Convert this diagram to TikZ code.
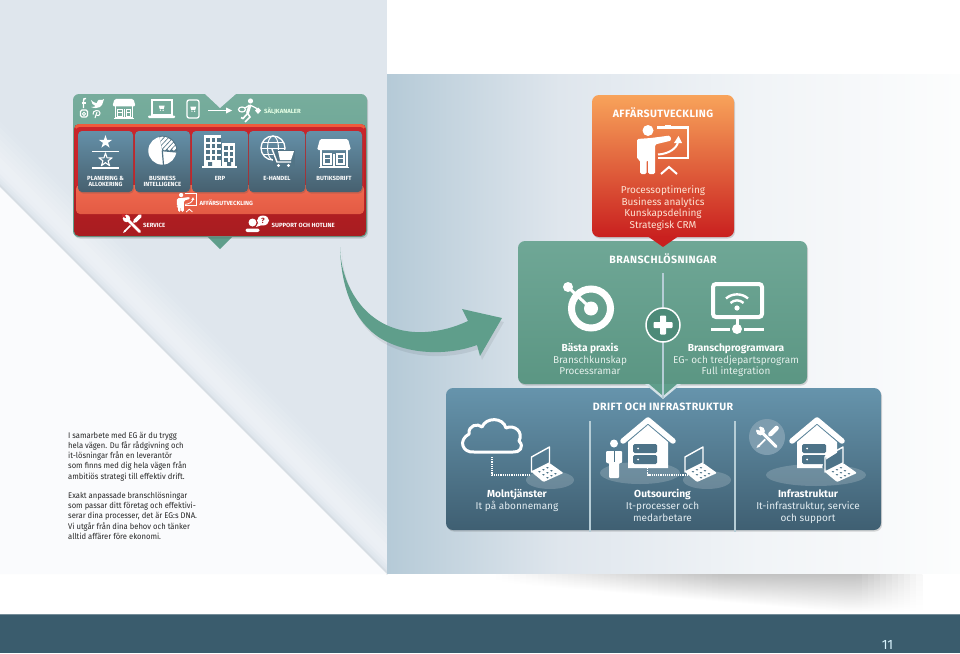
\documentclass[tikz,border=0pt]{standalone}
\usepackage{fontspec}
\setmainfont{Fira Sans}
\newfontfamily\titlefont[LetterSpace=4]{Fira Sans}
\newfontfamily\bodyfont[FakeStretch=.93]{Fira Sans}
\usetikzlibrary{shadows}
\definecolor{pagebg}{HTML}{DFE6ED}
\definecolor{foldlo}{HTML}{FAFBFD}
\definecolor{footbar}{HTML}{3A5C6D}
\definecolor{tilemid}{HTML}{527486}
\definecolor{midgreen}{HTML}{5F9E8B}
\definecolor{dvd}{HTML}{B6CDD6}
\definecolor{srv}{HTML}{4D7388}
\definecolor{tiletop}{HTML}{6590A8}
\definecolor{tilebot}{HTML}{46606F}
\definecolor{B5tone}{HTML}{B5CAD7}
\definecolor{F1tone}{HTML}{F1F4F7}
\definecolor{FCtone}{HTML}{FCFDFD}
\definecolor{RedA}{HTML}{C9252A}
\definecolor{RedB}{HTML}{A81C20}
\definecolor{OrTop}{HTML}{EE5B3C}
\definecolor{SalA}{HTML}{F0694F}
\definecolor{SalB}{HTML}{E35B44}
\definecolor{BlueA}{HTML}{6694AC}
\definecolor{BlueB}{HTML}{3F5F72}
\definecolor{GreenA}{HTML}{6FA796}
\definecolor{GreenB}{HTML}{5B9683}
\definecolor{GreenC}{HTML}{4D8A78}
\definecolor{OrA}{HTML}{F8A35A}
\definecolor{OrB}{HTML}{EF6F3A}
\definecolor{OrC}{HTML}{C9201F}
\definecolor{OrText}{HTML}{FDE3D3}
\definecolor{GrText}{HTML}{E3EFEA}
\definecolor{BlText}{HTML}{E3EDF2}
\definecolor{circbg}{HTML}{7E9DAF}
\newcommand\lf{1}
\newcommand\toolbg{RedA}
\newcommand\starpath{(0,-1) -- (.2245,-.309) -- (.951,-.309) -- (.363,.118) -- (.588,.809) -- (0,.382) -- (-.588,.809) -- (-.363,.118) -- (-.951,-.309) -- (-.2245,-.309) -- cycle}
\tikzset{
  softshadow/.style={drop shadow={shadow xshift=1pt,shadow yshift=-1.5pt,opacity=.22,fill=black!70}},
  caplabel/.style={text=white,font=\fontsize{6}{6.2}\selectfont\bfseries,align=center,inner sep=0pt},
  sidelabel/.style={text=white,font=\fontsize{6}{6.2}\selectfont\bfseries,anchor=west,inner sep=0pt},
  boxtitle/.style={text=white,font=\fontsize{10.6}{12}\titlefont\bfseries,inner sep=0pt,text height=9.2pt,text depth=2pt},
  boxline/.style={text=#1,font=\fontsize{10}{11.6}\selectfont,inner sep=0pt,text height=9.6pt,text depth=2pt},
  boxbold/.style={text=white,font=\fontsize{10.2}{11.6}\selectfont\bfseries,inner sep=0pt,text height=9.6pt,text depth=2pt},
  body/.style={text=black!85,font=\fontsize{8.2}{10.3}\bodyfont,align=left,anchor=north west,inner sep=0pt},
  tile/.style={rounded corners=4,top color=tiletop,bottom color=tilebot,softshadow},
  bizicon/.pic={
    \fill[white] (-15,-20.5) circle[radius=5.5];
    \fill[white,rounded corners=1.5] (-26,-12) -- (-12,-13) -- (7,-15.5) -- (8.5,-10.5) -- (-8,-6.5) -- (-8,23) -- (-15,23) -- (-15,9) -- (-16.5,9) -- (-16.5,23) -- (-23,23) -- (-23,9) -- (-26,8) -- cycle;
    \draw[white,line width=\lf*2.6pt] (-6,-23.5) -- (25,-23.5) -- (25,7) -- (-5,7);
    \fill[white] (2,-26.5) rectangle (8,-23.5);
    \draw[white,line width=\lf*2pt] (-5,3.5) .. controls (6,3) and (14,-3) .. (15,-9);
    \fill[white] (11,-8) -- (15.5,-15) -- (19,-8) -- cycle;
    \draw[white,line width=\lf*2pt] (-2,23) -- (6,16) -- (14,23);
  },
  toolicon/.pic={
    \draw[white,line width=\lf*4.4pt,line cap=round] (3.5,-3.5) -- (9.5,-9.5);
    \draw[white,line width=\lf*1.7pt] (3,-3) -- (-8,8);
    \fill[white] (-10.5,10.5) -- (-9,7) -- (-7,9) -- cycle;
    \draw[\toolbg,line width=\lf*4.6pt] (-4,-4) -- (9,9);
    \draw[white,line width=\lf*3pt,line cap=round] (-5,-5) -- (9,9);
    \fill[white] (-6.5,-6.5) circle[radius=4.4];
    \fill[\toolbg] (-7,-7) -- (-12,-8.5) -- (-12,-12) -- (-8.5,-12) -- cycle;
  },
  storeicon/.pic={
    \fill[white,rounded corners=1.5] (-14,-14) -- (14,-14) -- (17,-3) -- (-17,-3) -- cycle;
    \draw[white,line width=\lf*1.5pt] (-13,-3) -- (-13,14) -- (13,14) -- (13,-3);
    \draw[white,line width=\lf*1.3pt] (-10,1) rectangle (-3,11);
    \draw[white,line width=\lf*1.3pt] (0,1) -- (0,14);
    \draw[white,line width=\lf*1.3pt] (3,1) rectangle (10,11);
    \draw[white,line width=\lf*1pt] (-10,5) -- (-3,5) (3,5) -- (10,5);
    \draw[white,line width=\lf*1.6pt] (-15,14.5) -- (15,14.5);
  },
  carticon/.pic={
    \fill[white] (-3,-2) -- (3.5,-2) -- (2.5,1.5) -- (-2,1.5) -- cycle;
    \fill[white] (-1.2,3) circle[radius=.8] (1.8,3) circle[radius=.8];
  },
  laptopicon/.pic={
    \draw[white,line width=\lf*1.4pt,line join=round] (-15,-8) -- (3,-18) -- (3,-2) -- (-15,7) -- cycle;
    \fill[white,rounded corners=1] (-15,7) -- (3,-2) -- (17,8) -- (-3,17) -- cycle;
    \foreach \a/\b in {-7/7,-3/5,1/3,-3/10,1/8,5/6,1/13,5/11,9/9}{
      \fill[srv] (\a-1.3,\b-.5) -- (\a,\b-1) -- (\a+1.3,\b-.2) -- (\a,\b+.5) -- cycle;
    }
  },
  houseicon/.pic={
    \fill[white] (-20,25) -- (0,8) -- (20,25) -- (20,51) -- (-20,51) -- cycle;
    \draw[white,line width=5.5pt,line join=round,line cap=round] (-25,24) -- (0,3) -- (25,24);
    \fill[srv,rounded corners=1.5] (-15,27) rectangle (9,36);
    \fill[srv,rounded corners=1.5] (-15,38) rectangle (9,47);
    \fill[white] (-10,31.5) circle[radius=1] (-10,42.5) circle[radius=1];
  },
}
\begin{document}
\begin{tikzpicture}[x=1pt,y=-1pt]
\useasboundingbox (0,0) rectangle (960,653);
\fill[white] (0,0) rectangle (960,653);
% left page
\fill[pagebg] (0,0) rectangle (387,574);
\foreach \o/\c in {66/pagebg!96!white,60/pagebg!90!white,54/pagebg!84!white,48/pagebg!78!white,42/pagebg!72!white,36/pagebg!66!white,30/pagebg!60!white,24/pagebg!58!white,18/pagebg!62!white,13/pagebg!74!white,9/pagebg!90!white,6/pagebg,3/pagebg!96!black}{
  \fill[\c] (0,187-\o) -- (387,574-\o) -- (387,574) -- (0,187) -- cycle;
}
\fill[foldlo] (0,187) -- (387,574) -- (0,574) -- cycle;
% right panel
\shade[left color=B5tone,right color=pagebg] (387,74) rectangle (560,573);
\shade[left color=pagebg,right color=F1tone] (560,74) rectangle (760,573);
\shade[left color=F1tone,right color=FCtone] (760,74) rectangle (960,573);
% bottom shadow, built from narrow columns
\foreach \x in {490,496,...,920}{
  \pgfmathsetmacro\cc{min(24,(\x-490)/230*24)*min(1,max(0,(925-\x)/70))}
  \pgfmathsetmacro\hh{min(38,8+(\x-490)*0.085)}
  \shade[top color=black!\cc,bottom color=white] (\x,574) rectangle (\x+6.3,574+\hh);
}
% footer
\fill[footbar] (0,614) rectangle (960,653);
\fill[footbar!70!white] (0,614) rectangle (960,615);
\node[text=white!85!cyan,font=\fontsize{13.5}{14}\selectfont,inner sep=0pt] (pagenum) at (887.5,645) {11};
% body text
\node[body] (para1) at (68,431.5) {I samarbete med EG är du trygg\\hela vägen. Du får rådgivning och\\it-lösningar från en leverantör\\som finns med dig hela vägen från\\ambitiös strategi till effektiv drift.};
\node[body] (para2) at (68,491.5) {Exakt anpassade branschlösningar\\som passar ditt företag och effektivi-\\serar dina processer, det är EG:s DNA.\\Vi utgår från dina behov och tänker\\alltid affärer före ekonomi.};
% ---------- top-left panel
\fill[midgreen] (207,236) -- (220,249) -- (233,236) -- cycle;
\path[rounded corners=6,top color=midgreen!85!white,bottom color=midgreen,softshadow] (73,94) rectangle (367,237);
\fill[pagebg] (204,93) -- (220,108) -- (237,93) -- cycle;
\path[rounded corners=5,top color=RedA,bottom color=RedB] (74,124) rectangle (366,236);
\fill[OrTop,rounded corners=4] (75,124) rectangle (365,130);
\path[rounded corners=4,top color=RedA,bottom color=RedA] (75.5,127) rectangle (364.5,190);
\path[rounded corners=4,top color=SalA,bottom color=SalB] (76,185) rectangle (364,214);
\foreach \xa/\xb in {78/133,135/190,192/248,249/305,306/362}{
  \path[tile] (\xa,131) rectangle (\xb,192);
}
% social icons
\draw[white,line width=1.4pt] (86,98.5) .. controls (84,98) and (83.5,99) .. (83.5,101) -- (83.5,108);
\draw[white,line width=1.2pt] (81.5,103) -- (86,103);
\fill[white] (91,100) .. controls (94,103) and (96,103) .. (97,103) .. controls (97,100) and (100,98.5) .. (102,100) -- (104,99) -- (103,102) .. controls (103,106) and (98,110) .. (91,107) .. controls (94,107) and (95,106.5) .. (95.5,106) .. controls (93,105.5) and (91.5,103) .. (91,100) -- cycle;
\draw[white,line width=1.3pt,rounded corners=1.5] (80.5,110) rectangle (87.5,117);
\draw[white,line width=.9pt] (84,113.8) circle[radius=1.6];
\draw[white,line width=1pt] (95,118) -- (97,112);
\draw[white,line width=1pt] (93,114.5) .. controls (92,110) and (100,109) .. (100,113) .. controls (100,116) and (97,116) .. (96,115);
% channel icons
\renewcommand\lf{.7}
\pic[scale=.68] at (124,108.5) {storeicon};
\draw[white,line width=1.3pt] (152,100) rectangle (172,115);
\fill[white,rounded corners=1] (148,115.5) rectangle (175,118);
\pic[scale=.9] at (161.5,107.5) {carticon};
\draw[white,line width=1.3pt,rounded corners=2] (187,100) rectangle (199,118);
\pic[scale=.9] at (193,108.5) {carticon};
\draw[white,line width=1pt] (208,110.5) -- (230,110.5);
\fill[white] (226,107.5) -- (232,110.5) -- (226,113.5) -- cycle;
\fill[white] (250.5,101) circle[radius=2.6];
\draw[white,line width=3pt] (250,105) -- (247.5,113);
\draw[white,line width=1.6pt] (247.5,113) -- (250,117) -- (245,122);
\draw[white,line width=1.6pt] (248,113) -- (243,118.5) -- (241,117.5);
\draw[white,line width=1.3pt] (250,105) -- (256,108) -- (258,111);
\draw[white,line width=1.3pt] (249,105.5) -- (245,108);
\draw[white,line width=1.2pt] (242,109.5) ellipse[x radius=3.5,y radius=2.5];
\fill[white] (258,107.5) -- (261,110.5) -- (258,114) -- (255,110.5) -- cycle;
\node[sidelabel,text=white!90!green] (lblsalj) at (264,111) {SÄLJKANALER};
% tile icons
\begin{scope}[shift={(105.5,142)},scale=7]
  \fill[white] \starpath;
\end{scope}
\fill[white] (92,150.5) rectangle (119,152);
\begin{scope}[shift={(105.5,160)},scale=7]
  \draw[white,line width=1.1pt,line join=round] \starpath;
\end{scope}
\fill[white] (92,167) rectangle (119,168.5);
\fill[white] (162.3,150.7) circle[radius=14];
\begin{scope}
  \clip (162.3,150.7) -- (158,130) -- (182,130) -- (182,152) -- cycle;
  \fill[tilemid] (162.3,150.7) circle[radius=15];
  \clip (162.3,150.7) circle[radius=14];
  \foreach \k in {0,4.6,9.2,13.8,18.4,23}{
    \draw[white,line width=2.4pt] (150+\k,150) -- (166+\k,133);
  }
\end{scope}
\draw[tilemid,line width=1.2pt] (162.3,150.7) -- (176.5,152) (162.3,150.7) -- (163.5,165);
\foreach \xa/\xb/\ya in {204/221/135,222/235/143}{
  \fill[white] (\xa,\ya) rectangle (\xb,166);
}
\foreach \x in {206,211.5,217}{\foreach \y in {138,144,150,156}{\fill[tilemid] (\x,\y) rectangle +(3.6,4);}}
\foreach \x in {224,229.5}{\foreach \y in {146,152,158}{\fill[tilemid] (\x,\y) rectangle +(3.6,4);}}
\fill[tilemid] (208,162) rectangle (212,166) (227,162) rectangle (231,166);
\fill[white] (202,166) rectangle (237,167.5);
\draw[white,line width=1.3pt] (273,148) circle[radius=12];
\draw[white,line width=1pt] (273,148) ellipse[x radius=5.5,y radius=12];
\draw[white,line width=1pt] (261,148) -- (285,148) (263,142) -- (283,142) (263,154) -- (283,154);
\fill[tilemid] (273,150) rectangle (295,168);
\draw[white,line width=1.4pt] (272,149) -- (277,162) -- (291,162);
\fill[white] (278,151) -- (294,151) -- (291,160) -- (280,160) -- cycle;
\fill[white] (278.5,165.5) circle[radius=1.7] (288.5,165.5) circle[radius=1.7];
\renewcommand\lf{1}
\pic at (334,153) {storeicon};
% tile labels
\node[caplabel] (t1) at (105.5,181.5) {PLANERING \&\\ALLOKERING};
\node[caplabel] (t2) at (162.5,181.5) {BUSINESS\\INTELLIGENCE};
\node[caplabel] (t3) at (220,178.7) {ERP};
\node[caplabel] (t4) at (277,178.7) {E-HANDEL};
\node[caplabel] (t5) at (334,178.7) {BUTIKSDRIFT};
\renewcommand\lf{.4}
\pic[scale=.39] at (187,203) {bizicon};
\node[sidelabel] (lblaff) at (199.5,203) {AFFÄRSUTVECKLING};
\renewcommand\lf{.85}
\pic[scale=.85] at (132,224) {toolicon};
\node[sidelabel] (lblserv) at (143,225) {SERVICE};
\fill[white] (252.5,222.5) circle[radius=4];
\fill[white,rounded corners=2] (245.5,232) -- (245.5,228.5) -- (259.5,228.5) -- (259.5,232) -- cycle;
\fill[white] (263,220.5) ellipse[x radius=6,y radius=5];
\fill[white] (258,223) -- (256,227) -- (262,225) -- cycle;
\node[text=RedB,font=\fontsize{7.5}{8}\selectfont\bfseries,inner sep=0pt] (qmark) at (263,220.5) {?};
\node[sidelabel] (lblsupp) at (271.5,225) {SUPPORT OCH HOTLINE};
% curved arrow
\fill[black,opacity=.07] (342,251) .. controls (343,294) and (372,339) .. (427,336) .. controls (444,335) and (457,331) .. (470,325) -- (464,313) -- (504,322) -- (482,360) -- (479,349) .. controls (452,359) and (412,360) .. (382,342) .. controls (357,326) and (343,294) .. (342,251) -- cycle;
\fill[midgreen] (340,247) .. controls (341,290) and (370,335) .. (425,332) .. controls (442,331) and (455,327) .. (468,321) -- (462,309) -- (502,318) -- (480,356) -- (477,345) .. controls (450,355) and (410,356) .. (380,338) .. controls (355,322) and (341,290) .. (340,247) -- cycle;
% ---------- blue box
\path[rounded corners=7,top color=BlueA,bottom color=BlueB,softshadow] (446,388) rectangle (881,530);
\fill[dvd] (588.8,421) rectangle (591.2,532);
\fill[dvd] (733.8,421) rectangle (736.2,532);
\node[boxtitle] (drift) at (663,407) {DRIFT OCH INFRASTRUKTUR};
% ---------- green box
\path[rounded corners=7,top color=GreenA,bottom color=GreenB,softshadow] (518,241) rectangle (807,384);
\fill[dvd!60!white] (645,384) -- (663,399) -- (681,384) -- cycle;
\fill[midgreen] (649,384) -- (663,396) -- (677,384) -- cycle;
\fill[dvd] (661.5,273) rectangle (664,398);
\node[boxtitle] (bransch) at (663,260) {BRANSCHLÖSNINGAR};
% ---------- orange box
\path[rounded corners=7,top color=OrA,middle color=OrB,bottom color=OrC,softshadow] (592,95) rectangle (734,237);
\fill[OrC] (648,236.5) -- (663,247) -- (678,236.5) -- cycle;
\node[boxtitle] (aff) at (663,114) {AFFÄRSUTVECKLING};
\renewcommand\lf{1}
\pic at (663,151) {bizicon};
\node[boxline=OrText] (pr1) at (663,190) {Processoptimering};
\node[boxline=OrText] (pr2) at (663,201.5) {Business analytics};
\node[boxline=OrText] (pr3) at (663,213) {Kunskapsdelning};
\node[boxline=OrText] (pr4) at (663,225) {Strategisk CRM};
% target
\draw[white,line width=7pt] (591,308.5) circle[radius=19.5];
\fill[white] (591,308.5) circle[radius=7];
\draw[white,line width=3pt] (591,308.5) -- (569,288);
\fill[white] (568,287) circle[radius=5];
% plus
\fill[GreenC,draw=white,line width=1.5pt] (663,325) circle[radius=17];
\fill[white,rounded corners=.8] (660,315.5) rectangle (666,334.5);
\fill[white,rounded corners=.8] (653.5,322) rectangle (672.5,328);
% monitor
\draw[white,line width=4pt,rounded corners=3] (713,284) rectangle (762,317);
\fill[white] (735.5,317) rectangle (738.5,329);
\fill[white] (737,329) circle[radius=5];
\fill[white] (711,328) rectangle (730,330.5);
\fill[white] (744,328) rectangle (764,330.5);
\fill[white] (737,308) circle[radius=2.6];
\draw[white,line width=2.4pt] (730.5,303) .. controls (734,299.5) and (740,299.5) .. (743.5,303);
\draw[white,line width=2.4pt] (726,298.5) .. controls (732,293) and (742,293) .. (748,298.5);
% green texts
\node[boxbold] (gl1) at (590,348) {Bästa praxis};
\node[boxline=GrText] (gl2) at (590,360) {Branschkunskap};
\node[boxline=GrText] (gl3) at (590,371) {Processramar};
\node[boxbold] (gr1) at (736,348) {Branschprogramvara};
\node[boxline=GrText] (gr2) at (736,360) {EG- och tredjepartsprogram};
\node[boxline=GrText] (gr3) at (736,371) {Full integration};
% cloud column
\fill[white,opacity=.18] (550,480) ellipse[x radius=24,y radius=9];
\draw[white,line width=3pt,line join=round] (474,452) .. controls (462,453) and (458,440) .. (469,434) .. controls (468,425) and (478,423) .. (482,427) .. controls (486,417) and (503,417) .. (506,428) .. controls (514,424) and (524,432) .. (519,441) .. controls (525,447) and (519,453) .. (513,452) -- cycle;
\draw[white,line width=1.2pt,densely dotted] (492,457) -- (492,475) -- (530,475);
\renewcommand\lf{1}
\pic at (546.5,465) {laptopicon};
% outsourcing column
\fill[white,opacity=.18] (640,473) ellipse[x radius=40,y radius=11];
\fill[white,opacity=.18] (707,480) ellipse[x radius=24,y radius=9];
\pic at (648,417) {houseicon};
\fill[white] (614,443.5) circle[radius=4];
\fill[white,rounded corners=1] (606,451) -- (622,451) -- (622,463) -- (619,463) -- (619,478) -- (609,478) -- (609,463) -- (606,463) -- cycle;
\draw[srv,line width=.6pt] (614,451) -- (614,462);
\draw[white,line width=1.2pt,densely dotted] (647.5,468) -- (647.5,475) -- (687,475);
\pic at (700,465) {laptopicon};
% infrastructure column
\fill[white,opacity=.18] (816,475) ellipse[x radius=50,y radius=11];
\fill[circbg] (767,437) circle[radius=18];
\pic at (817,417) {houseicon};
\renewcommand\lf{1.05}
\renewcommand\toolbg{circbg}
\pic at (767,437.5) {toolicon};
\renewcommand\lf{1}
\fill[srv,rounded corners=1] (822,468) -- (824,461) -- (840,451) -- (841,464) -- (834,472) -- cycle;
\pic at (840,465) {laptopicon};
% blue texts
\node[boxbold] (b11) at (517,494) {Molntjänster};
\node[boxline=BlText] (b12) at (517,506) {It på abonnemang};
\node[boxbold] (b21) at (662.5,494) {Outsourcing};
\node[boxline=BlText] (b22) at (662.5,506) {It-processer och};
\node[boxline=BlText] (b23) at (662.5,518) {medarbetare};
\node[boxbold] (b31) at (808,494) {Infrastruktur};
\node[boxline=BlText] (b32) at (808,506) {It-infrastruktur, service};
\node[boxline=BlText] (b33) at (808,518) {och support};
\end{tikzpicture}
\end{document}
